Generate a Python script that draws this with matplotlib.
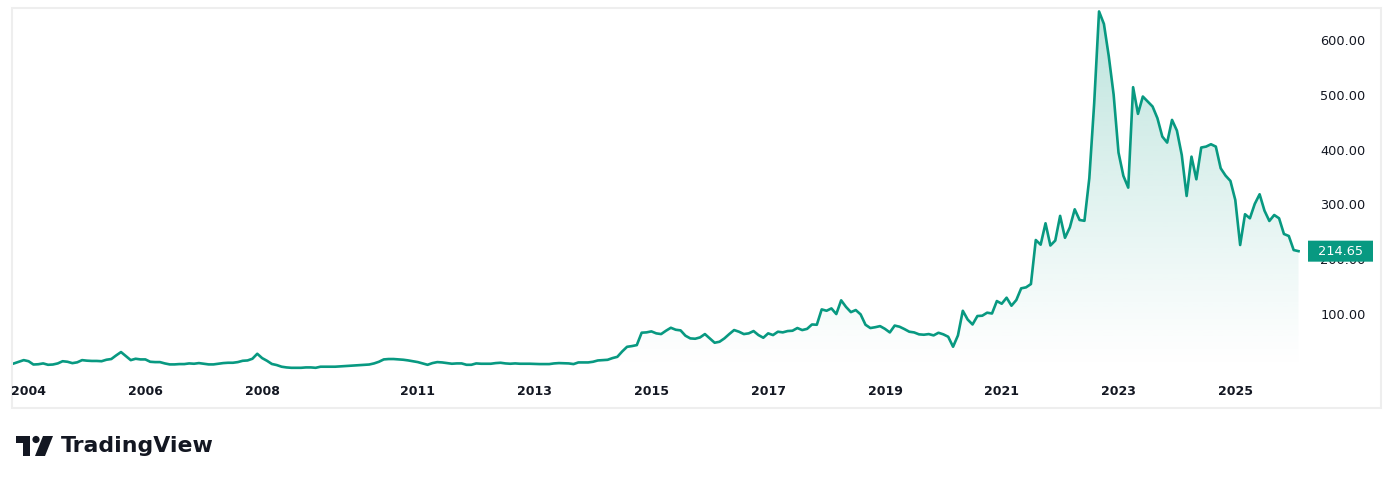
import matplotlib
matplotlib.use('Agg')
import matplotlib.pyplot as plt
import matplotlib.transforms as mtransforms
import numpy as np
from matplotlib.patches import Rectangle, Circle, Polygon, FancyBboxPatch

# monthly closes, one value per bar
vals_2003_2008 = [10, 13, 16, 14, 8, 8.5, 10, 7.5, 8, 10, 14, 13, 10.5, 12, 16, 15, 14.5, 14.5, 14,
                  16.7, 18, 24.6, 30.7, 23.4, 16, 18.5, 17.3, 17.3, 13, 12.4, 12.4, 10, 8.2, 8.2,
                  8.8, 8.8, 10, 9.4, 10.6, 9.4, 8.2, 8.2, 9.4, 10.6, 11.2, 11.2, 12.4, 14.8, 15.4,
                  18.5, 27.6, 19.7, 14.8, 9, 7]
vals_2008_2013 = [4, 2.7, 2, 2, 2, 2.7, 2.7, 2, 4, 4, 4, 4, 4.5, 5, 5.7, 6.3, 7, 7.5, 8, 10, 13,
                  17.3, 18, 18, 17.3, 16.7, 15.5, 14, 12.4, 10, 7.5, 10.6, 12.4, 11.8, 10.6, 9.4,
                  10, 10, 7.5, 7.5, 10, 9.4, 9.4, 9.4, 10.6, 11.2, 10, 9.4, 10, 9.4, 9.4, 9.4]
vals_2013_2017 = [9, 8.8, 8.8, 8.8, 10, 10.6, 10.3, 10, 8.8, 11.8, 11.8, 11.8, 13, 15.4, 16, 16.6,
                  19.7, 22, 31.8, 40.3, 41.6, 43.4, 66, 66.6, 68.4, 64.8, 63.5, 69.6, 75, 71.4,
                  70.2, 60.5, 55.6, 55, 57.4, 63.5, 55.6, 47.7, 49.5, 55.6, 63.5, 70.8, 67.8, 63.5,
                  64.8, 69, 61.7, 56.8, 64.8, 61.7, 67.8, 66.6, 69, 69.6]
vals_2017_2021 = [74.5, 70.8, 73, 81, 80.5, 108.5, 106, 110.3, 100, 125, 113, 103.5, 107.3, 99.4,
                  80.5, 74.5, 76, 78, 73, 66.5, 79, 76.9, 72.6, 67.8, 66.5, 63, 62.3, 63.5, 61.1,
                  65.9, 63, 58.6, 40.4, 61, 106, 90, 81, 96.4, 97, 102.5, 101, 123.7, 118.8, 129.8,
                  115.2, 125.6, 146.9, 148.7, 154.7, 235, 226.5, 265.5]
vals_2021_2026 = [225, 234, 279, 239, 258, 291, 271.5, 270, 347.6, 484, 651.7, 629, 570, 500, 394.5,
                  352, 330.5, 513.6, 465, 496.6, 487.5, 478.4, 457, 423.6, 412.6, 454, 434.5, 390,
                  315.3, 387, 345.7, 403.6, 405.3, 409.6, 405.3, 365.8, 352.4, 342.7, 308, 225.9,
                  282, 274.6, 300.8, 318.4, 288.5, 269.7, 280.6, 274.6, 246, 242.3, 216.7, 214.65]

values = np.array(vals_2003_2008 + vals_2008_2013 + vals_2013_2017 + vals_2017_2021 + vals_2021_2026)
bars = np.arange(len(values))

year_labels = ['2004', '2006', '2008', '2011', '2013', '2015', '2017', '2019', '2021', '2023', '2025']
year_bars = [3, 27, 51, 83, 107, 131, 155, 179, 203, 227, 251]
price_ticks = [100, 200, 300, 400, 500, 600]
last_price = 214.65

GREEN = '#089981'
TEXT = '#131722'

W, H = 1394, 483
fig = plt.figure(figsize=(W / 100, H / 100), dpi=100)
fig.patch.set_facecolor('white')

# frame behind everything
ov = fig.add_axes([0, 0, 1, 1], zorder=-1)
ov.set_xlim(0, W)
ov.set_ylim(H, 0)
ov.axis('off')
ov.add_patch(Rectangle((12, 8), 1369, 400, fill=False, ec='#eeeeee', lw=1.5))

ax = fig.add_axes([13 / W, (H - 370) / H, 1287 / W, 362 / H])
ax.patch.set_alpha(0)
XMIN, XMAX = -0.2, bars[-1] + 0.3
YMIN, YMAX = -2, 658

# gradient area under the line
ax.plot(bars, values, color=GREEN, lw=1.9, zorder=3, solid_joinstyle='round')
fill = ax.fill_between(bars, values, YMIN, color='none', lw=0)
grad = np.linspace(0, 1, 256)
rgba = np.zeros((256, 1, 4))
rgba[:, 0, 0] = 8 / 255
rgba[:, 0, 1] = 153 / 255
rgba[:, 0, 2] = 129 / 255
rgba[:, 0, 3] = 0.27 * grad ** 1.1
img = ax.imshow(rgba, extent=[bars[0], bars[-1], YMIN, values.max()], origin='lower',
                aspect='auto', zorder=2, interpolation='bilinear')
img.set_clip_path(fill.get_paths()[0], transform=ax.transData)
ax.set_xlim(XMIN, XMAX)
ax.set_ylim(YMIN, YMAX)

for s in ax.spines.values():
    s.set_visible(False)

ax.set_xticks(year_bars)
ax.set_xticklabels(year_labels, fontsize=9, fontweight='bold', color=TEXT)
ax.tick_params(axis='x', length=0, pad=10.5)

ax.yaxis.tick_right()
ax.set_yticks(price_ticks)
ax.set_yticklabels([f'{v:.2f}' for v in price_ticks], fontsize=9.3, color=TEXT)
ax.tick_params(axis='y', length=0, pad=14.5)
ax.grid(False)

# last price tag (pixel sized box next to the price scale)
ax_w = 1287
px_per_unit = 362 / (YMAX - YMIN)
blend = mtransforms.blended_transform_factory(ax.transAxes, ax.transData)
tag_h = 21 / px_per_unit
tag = FancyBboxPatch((1 + 8 / ax_w, last_price - tag_h / 2), 65 / ax_w, tag_h,
                     boxstyle='round,pad=0,rounding_size=0.002', transform=blend,
                     fc=GREEN, ec='none', clip_on=False, zorder=10)
ax.add_patch(tag)
ax.text(1 + 40.5 / ax_w, last_price, f'{last_price:.2f}', transform=blend, ha='center',
        va='center', fontsize=9.3, color='white', zorder=11, clip_on=False)

# TradingView logo
logo = fig.add_axes([0, 0, 1, 1], zorder=5)
logo.set_xlim(0, W)
logo.set_ylim(H, 0)
logo.axis('off')
logo.add_patch(Rectangle((16, 436), 14, 7, fc=TEXT, ec='none'))
logo.add_patch(Rectangle((23, 436), 7, 20, fc=TEXT, ec='none'))
logo.add_patch(Circle((36, 439.5), 3.6, fc=TEXT, ec='none'))
logo.add_patch(Polygon([(43, 436), (53, 436), (45, 456), (35, 456)], closed=True, fc=TEXT, ec='none'))
logo.text(61, 446, 'TradingView', fontsize=15.8, fontweight='bold', color=TEXT,
          ha='left', va='center')

fig.savefig('out.png', dpi=100, facecolor='white')
